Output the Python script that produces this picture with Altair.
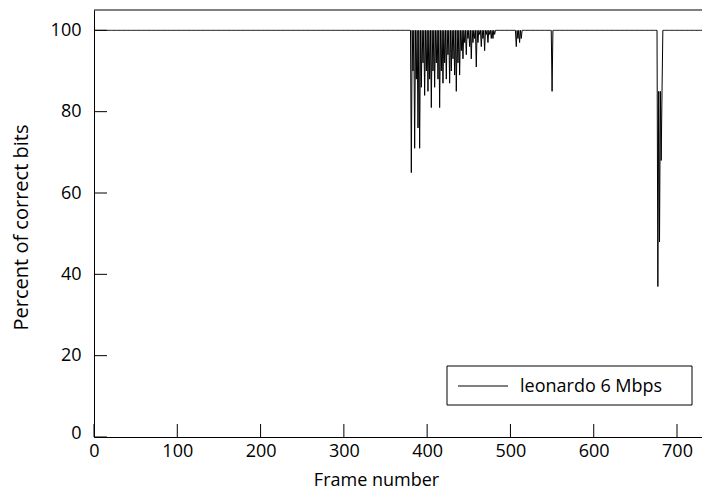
import altair as alt
import pandas as pd

# ---- data ----
n_frames = 731  # frames 0 .. 730
base_value = 100
dip_frames = [381, 383, 385, 387, 389, 391, 393, 395, 397, 399,
              401, 403, 405, 407, 409, 411, 413, 415, 417, 419,
              421, 423, 425, 427, 429, 431, 433, 435, 437, 439,
              441, 443, 445, 447, 449, 451, 453, 455, 457, 459,
              461, 463, 465, 467, 469, 471, 473, 475, 477, 479, 481,
              507, 509, 511, 513,
              550,
              677, 678, 679, 680, 681, 682]
dip_values = [65, 90, 71, 88, 76, 71, 86, 92, 84, 90,
              85, 88, 81, 90, 86, 92, 88, 81, 90, 87,
              92, 88, 94, 87, 90, 93, 89, 85, 92, 89,
              95, 93, 97, 94, 98, 96, 93, 97, 98, 91,
              97, 99, 96, 98, 95, 99, 97, 99, 98, 98, 99,
              96, 98, 97, 98,
              85,
              37, 85, 48, 85, 68, 85]
series_name = "leonardo 6 Mbps"
x_ticks = [0, 100, 200, 300, 400, 500, 600, 700]
y_ticks = [0, 20, 40, 60, 80, 100]
x_max = 730
y_max = 105

dips = dict(zip(dip_frames, dip_values))
df = pd.DataFrame({
    "frame": list(range(n_frames)),
    "pct": [dips.get(f, base_value) for f in range(n_frames)],
})
xt = pd.DataFrame({"frame": x_ticks})
yt = pd.DataFrame({"pct": y_ticks})
one = pd.DataFrame({"k": [0]})

W, H = 608, 427
FONT = "Open Sans"
TICK = 13

xscale = alt.Scale(domain=[0, x_max], nice=False, zero=False)
yscale = alt.Scale(domain=[0, y_max], nice=False, zero=False)

x_axis = alt.Axis(values=x_ticks, ticks=False, labelPadding=5, labelFlush=False,
                  title="Frame number", titleX=282, titleY=48,
                  titleBaseline="alphabetic", titleAlign="center",
                  titleAnchor="start")
y_axis = alt.Axis(values=y_ticks, ticks=False, labelPadding=13,
                  labelFlush=True, labelFlushOffset=5,
                  title="Percent of correct bits", titleX=-73, titleY=217,
                  titleBaseline="middle", titleAlign="center",
                  titleAnchor="start", titleFontSize=20)

line = alt.Chart(df).mark_line(color="black", strokeWidth=1, clip=True).encode(
    x=alt.X("frame:Q", scale=xscale, axis=x_axis),
    y=alt.Y("pct:Q", scale=yscale, axis=y_axis),
)

xtick = alt.Chart(xt).mark_rule(color="black", strokeWidth=1).encode(
    x=alt.X("frame:Q", scale=xscale, axis=x_axis),
    y=alt.value(H - TICK), y2=alt.value(H),
)
ytick = alt.Chart(yt).mark_rule(color="black", strokeWidth=1).encode(
    y=alt.Y("pct:Q", scale=yscale, axis=y_axis),
    x=alt.value(0), x2=alt.value(TICK),
)
top = alt.Chart(one).mark_rule(color="black", strokeWidth=1).encode(
    y=alt.value(0), x=alt.value(0), x2=alt.value(W),
)

# legend box
lbox = alt.Chart(one).mark_rect(fill="white", stroke="black", strokeWidth=1).encode(
    x=alt.value(353), x2=alt.value(598), y=alt.value(356), y2=alt.value(395),
)
lline = alt.Chart(one).mark_rule(color="black", strokeWidth=1).encode(
    x=alt.value(364), x2=alt.value(414), y=alt.value(376),
)
ltext = alt.Chart(pd.DataFrame({"name": [series_name]})).mark_text(
    align="left", baseline="middle", font=FONT, fontSize=18, color="black"
).encode(x=alt.value(426), y=alt.value(377), text="name:N")

chart = alt.layer(line, xtick, ytick, top, lbox, lline, ltext).properties(
    width=W, height=H,
    autosize=alt.AutoSizeParams(type="none"),
    padding={"left": 86, "top": 2, "right": 0, "bottom": 53},
).configure_view(stroke=None).configure_axis(
    grid=False, domainColor="black", domainWidth=1,
    labelFont=FONT, labelFontSize=18, labelColor="black",
    titleFont=FONT, titleFontSize=18, titleColor="black", titleFontWeight="normal",
)

chart.save("out.html", embed_options={"renderer": "svg", "actions": False})
